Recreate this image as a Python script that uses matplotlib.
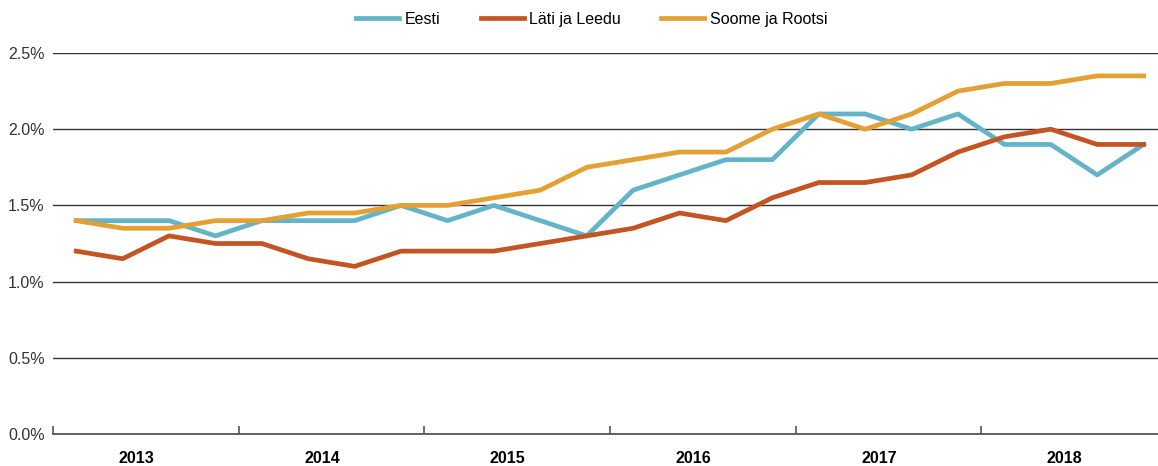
import matplotlib.pyplot as plt
import numpy as np
from matplotlib.ticker import FixedLocator, FuncFormatter

plt.rcParams["font.family"] = ["Liberation Sans", "DejaVu Sans"]

years = ["2013", "2014", "2015", "2016", "2017", "2018"]
eesti = [1.4, 1.4, 1.4, 1.3, 1.4, 1.4, 1.4, 1.5, 1.4, 1.5, 1.4, 1.3,
         1.6, 1.7, 1.8, 1.8, 2.1, 2.1, 2.0, 2.1, 1.9, 1.9, 1.7, 1.9]
lati_leedu = [1.2, 1.15, 1.3, 1.25, 1.25, 1.15, 1.1, 1.2, 1.2, 1.2, 1.25, 1.3,
              1.35, 1.45, 1.4, 1.55, 1.65, 1.65, 1.7, 1.85, 1.95, 2.0, 1.9, 1.9]
soome_rootsi = [1.4, 1.35, 1.35, 1.4, 1.4, 1.45, 1.45, 1.5, 1.5, 1.55, 1.6, 1.75,
                1.8, 1.85, 1.85, 2.0, 2.1, 2.0, 2.1, 2.25, 2.3, 2.3, 2.35, 2.35]

x = np.arange(len(eesti))

fig = plt.figure(figsize=(11.58, 4.66), dpi=100)
ax = fig.add_axes([53 / 1158, 32 / 466, 1 - 53 / 1158, 381 / 466])

ax.plot(x, eesti, color="#63b4c9", lw=3.4, label="Eesti", zorder=3)
ax.plot(x, lati_leedu, color="#c45522", lw=3.4, label="Läti ja Leedu", zorder=3)
ax.plot(x, soome_rootsi, color="#e3a033", lw=3.4, label="Soome ja Rootsi", zorder=3)

ax.set_ylim(0, 2.5)
ax.set_xlim(-0.5, 23.31)
ax.set_yticks([0, 0.5, 1.0, 1.5, 2.0, 2.5])
ax.yaxis.set_major_formatter(FuncFormatter(lambda v, p: f"{v:.1f}%"))
ax.grid(axis="y", color="#333333", lw=1.0, zorder=1)
ax.tick_params(axis="y", length=0, pad=6, labelsize=11.5, labelcolor="#333333")

# year boundaries as ticks, year names under each year
ax.xaxis.set_major_locator(FixedLocator(np.arange(-0.5, 24, 4)))
ax.xaxis.set_major_formatter(FuncFormatter(lambda v, p: ""))
ax.xaxis.set_minor_locator(FixedLocator(np.arange(1.3, 24, 4)))
ax.set_xticklabels(years, minor=True, fontweight="bold", fontsize=11.5)
ax.tick_params(axis="x", which="major", direction="in", length=6, width=1.2, color="#555555")
ax.tick_params(axis="x", which="minor", length=0, pad=12)

for s in ["top", "right", "left"]:
    ax.spines[s].set_visible(False)
ax.spines["bottom"].set_color("#555555")
ax.spines["bottom"].set_linewidth(1.3)

fig.legend(loc="upper center", bbox_to_anchor=(0.511, 1.005), ncol=3, frameon=False,
           fontsize=11.5, handlelength=2.7, columnspacing=2.5, handletextpad=0.35)

fig.savefig("out.png", dpi=100)
